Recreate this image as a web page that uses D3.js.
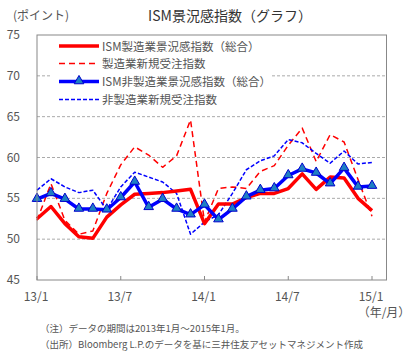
<!DOCTYPE html>
<html><head><meta charset="utf-8">
<script src="https://cdn.jsdelivr.net/npm/d3@7"></script>
<style>body{margin:0;background:#fff}svg{display:block}text{font-family:"Noto Sans CJK JP","Noto Sans",sans-serif;fill:#555}</style>
</head><body>
<script>
const months = d3.range(25); // 2013/1 .. 2015/1
const tickMonths = [0, 6, 12, 18, 24];
const tickLabels = ["13/1", "13/7", "14/1", "14/7", "15/1"];
const yTicks = [45, 50, 55, 60, 65, 70, 75];
const seriesNames = ["ISM製造業景況感指数（総合）", "製造業新規受注指数", "ISM非製造業景況感指数（総合）", "非製造業新規受注指数"];
const manufPMI = [52.5,54.0,51.9,50.3,50.1,52.7,54.2,55.5,55.6,55.7,55.9,56.1,51.9,54.3,54.3,55.1,55.6,55.6,56.2,58.0,56.1,57.6,57.5,55.0,53.5];
const manufOrders = [52.3,56.8,52.3,50.6,51.0,55.6,59.1,61.3,60.3,58.8,60.2,64.6,52.1,56.2,56.4,56.2,58.3,59.0,61.5,63.6,59.5,62.8,61.9,57.3,52.8];
const nonManufPMI = [54.9,55.6,54.9,53.7,53.7,53.6,55.1,57.0,53.9,54.9,53.7,53.0,54.2,52.4,53.7,55.2,56.0,56.2,57.8,58.6,58.1,56.8,58.7,56.4,56.5];
const nonManufOrders = [56.0,57.4,56.4,55.7,56.0,53.6,56.4,58.2,57.6,57.0,55.6,50.6,52.1,53.0,55.6,58.5,59.6,60.2,62.2,61.8,60.5,59.3,60.8,59.2,59.4];

const W = 412, H = 360;
const svg = d3.select("body").append("svg").attr("width", W).attr("height", H);
const L = 37, R = 386.5, T = 35, B = 280;
const x = d3.scaleLinear().domain([0, 24]).range([L, 372]);
const y = d3.scaleLinear().domain([45, 75]).range([B, T]);

// gridlines
svg.append("g").selectAll("line").data(yTicks.filter(v => v > 45 && v < 75)).join("line")
  .attr("x1", L).attr("x2", R).attr("y1", d => y(d)).attr("y2", d => y(d))
  .attr("stroke", "#aaa").attr("stroke-dasharray", "3,2").attr("stroke-width", 1);

// y labels
svg.append("g").selectAll("text").data(yTicks).join("text")
  .attr("x", 20).attr("y", d => y(d) + 4).attr("text-anchor", "end")
  .attr("font-size", 12).text(d => d);

// x ticks and labels
svg.append("g").selectAll("line").data(tickMonths).join("line")
  .attr("x1", d => x(d)).attr("x2", d => x(d)).attr("y1", B).attr("y2", B - 4)
  .attr("stroke", "#888");
svg.append("g").selectAll("text").data(tickMonths).join("text")
  .attr("x", d => x(d) - 1).attr("y", 301).attr("text-anchor", "middle")
  .attr("font-size", 12).text((d, i) => tickLabels[i]);
svg.append("text").attr("x", 384).attr("y", 317).attr("text-anchor", "middle").attr("font-size", 12).text("（年/月）");

// lines
const line = d3.line().x((d, i) => x(i)).y(d => y(d));
function draw(data, color, width, dash) {
  svg.append("path").datum(data).attr("d", line).attr("fill", "none")
    .attr("stroke", color).attr("stroke-width", width)
    .attr("stroke-dasharray", dash).attr("stroke-linejoin", "round");
}
draw(manufOrders, "#ff0000", 1.5, "6,4");
draw(nonManufOrders, "#0000ff", 1.5, "4,2");
draw(manufPMI, "#ff0000", 3.5, null);
draw(nonManufPMI, "#0000ff", 3.5, null);

const tri = d3.symbol().type(d3.symbolTriangle).size(40);
svg.append("g").selectAll("path").data(nonManufPMI).join("path")
  .attr("d", tri).attr("transform", (d, i) => `translate(${x(i)},${y(d) - 0.5})`)
  .attr("fill", "#1e7fc4").attr("stroke", "#0000cc").attr("stroke-width", 1);

// legend
const lg = svg.append("g");
lg.append("rect").attr("x", 52).attr("y", 37).attr("width", 220).attr("height", 71).attr("fill", "#fff");
const rows = [46, 63.5, 81.5, 99.5];
const styles = [["#ff0000", 3.5, null], ["#ff0000", 1.5, "6,4"], ["#0000ff", 3.5, null], ["#0000ff", 1.5, "4,2"]];
rows.forEach((ry, i) => {
  lg.append("line").attr("x1", 59).attr("x2", 99).attr("y1", ry).attr("y2", ry)
    .attr("stroke", styles[i][0]).attr("stroke-width", styles[i][1]).attr("stroke-dasharray", styles[i][2]);
  lg.append("text").attr("x", 102).attr("y", ry + 4.5).attr("font-size", 11.5).text(seriesNames[i]);
});
lg.append("path").attr("d", tri).attr("transform", `translate(79,${rows[2] - 0.5})`)
  .attr("fill", "#1e7fc4").attr("stroke", "#0000cc");

// frame
svg.append("rect").attr("x", L).attr("y", T).attr("width", R - L).attr("height", B - T)
  .attr("fill", "none").attr("stroke", "#888").attr("stroke-width", 1);

// titles
svg.append("text").attr("x", 230).attr("y", 21).attr("text-anchor", "middle").attr("font-size", 14).style("fill", "#333").text("ISM景況感指数（グラフ）");
svg.append("text").attr("x", 13).attr("y", 20).attr("font-size", 12).text("(ポイント)");

// notes
svg.append("text").attr("x", 40).attr("y", 332).attr("font-size", 9.5).text("（注）データの期間は2013年1月～2015年1月。");
svg.append("text").attr("x", 40).attr("y", 348).attr("font-size", 9.5).text("（出所）Bloomberg L.P.のデータを基に三井住友アセットマネジメント作成");
</script>
</body></html>
